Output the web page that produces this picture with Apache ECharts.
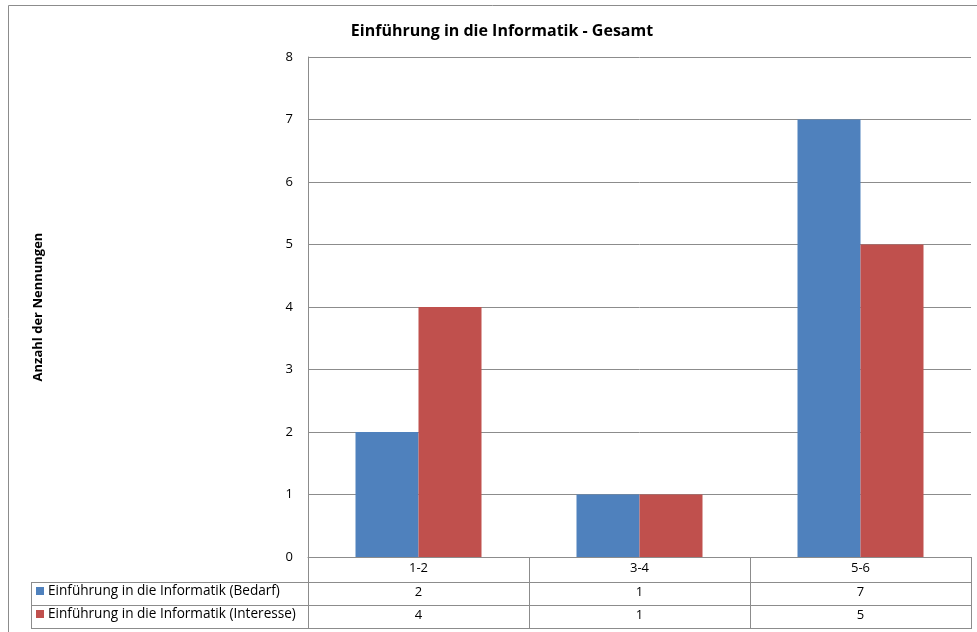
<!DOCTYPE html>
<html>
<head>
<meta charset="utf-8">
<script src="https://cdn.jsdelivr.net/npm/echarts@6/dist/echarts.min.js"></script>
<style>
  html, body { margin: 0; padding: 0; background: #fff; }
  #main { width: 977px; height: 632px; }
</style>
</head>
<body>
<div id="main"></div>
<script>
// Daten
var categories = ['1-2', '3-4', '5-6'];
var bedarf = [2, 1, 7];
var interesse = [4, 1, 5];
var seriesNames = ['Einführung in die Informatik (Bedarf)', 'Einführung in die Informatik (Interesse)'];

var gridColor = '#8c8c8c';
var fontFam = '"Open Sans", "Noto Sans", sans-serif';

function rowAxis(values, offset) {
    return {
        type: 'category',
        data: categories,
        position: 'bottom',
        offset: offset,
        axisLine: { show: false },
        axisTick: { show: false },
        axisLabel: {
            margin: 5,
            color: '#000',
            fontSize: 13,
            fontFamily: fontFam,
            formatter: function (v, i) { return String(values[i]); }
        }
    };
}

var chart = echarts.init(document.getElementById('main'));
var option = {
    animation: false,
    color: ['#4F81BD', '#C0504D'],
    title: {
        text: 'Einführung in die Informatik - Gesamt',
        left: 497,
        textAlign: 'center',
        top: 18,
        textStyle: { fontSize: 16, fontWeight: 'bold', color: '#000', fontFamily: fontFam }
    },
    legend: {
        orient: 'vertical',
        left: 36,
        top: 584,
        padding: 0,
        itemWidth: 8,
        itemHeight: 8,
        itemGap: 9,
        icon: 'rect',
        data: seriesNames,
        textStyle: { fontSize: 13.6, color: '#000', fontFamily: fontFam, lineHeight: 14, padding: [0, 0, 0, -1] }
    },
    grid: { left: 308, right: 6, top: 57, bottom: 75 },
    xAxis: [
        {
            type: 'category',
            data: categories,
            axisLine: { lineStyle: { color: gridColor } },
            axisTick: { show: true, length: 72, lineStyle: { color: gridColor } },
            axisLabel: { margin: 5, color: '#000', fontSize: 13, fontFamily: fontFam }
        },
        rowAxis(bedarf, 24),
        rowAxis(interesse, 47)
    ],
    yAxis: {
        type: 'value',
        min: 0,
        max: 8,
        interval: 1,
        name: 'Anzahl der Nennungen',
        nameLocation: 'middle',
        nameGap: 263,
        nameTextStyle: { fontSize: 13, fontWeight: 'bold', color: '#000', fontFamily: fontFam },
        axisLine: { show: true, lineStyle: { color: gridColor } },
        axisTick: { show: false },
        axisLabel: { margin: 15, color: '#000', fontSize: 13, fontFamily: fontFam },
        splitLine: { lineStyle: { color: gridColor } }
    },
    series: [
        { name: seriesNames[0], type: 'bar', data: bedarf, barWidth: 63, barGap: '0%' },
        { name: seriesNames[1], type: 'bar', data: interesse, barWidth: 63, barGap: '0%' }
    ],
    graphic: [
        // Rahmen
        { type: 'polyline', shape: { points: [[8.5, 632], [8.5, 5.5], [977, 5.5]] }, style: { stroke: '#8c8c8c', fill: null, lineWidth: 1 } },
        // Tabellenlinien
        { type: 'line', shape: { x1: 31, y1: 582.5, x2: 971, y2: 582.5 }, style: { stroke: gridColor, lineWidth: 1 } },
        { type: 'line', shape: { x1: 31, y1: 605.5, x2: 971, y2: 605.5 }, style: { stroke: gridColor, lineWidth: 1 } },
        { type: 'line', shape: { x1: 31, y1: 628.5, x2: 971, y2: 628.5 }, style: { stroke: gridColor, lineWidth: 1 } },
        { type: 'line', shape: { x1: 31.5, y1: 582, x2: 31.5, y2: 629 }, style: { stroke: gridColor, lineWidth: 1 } }
    ]
};
chart.setOption(option);
</script>
</body>
</html>
